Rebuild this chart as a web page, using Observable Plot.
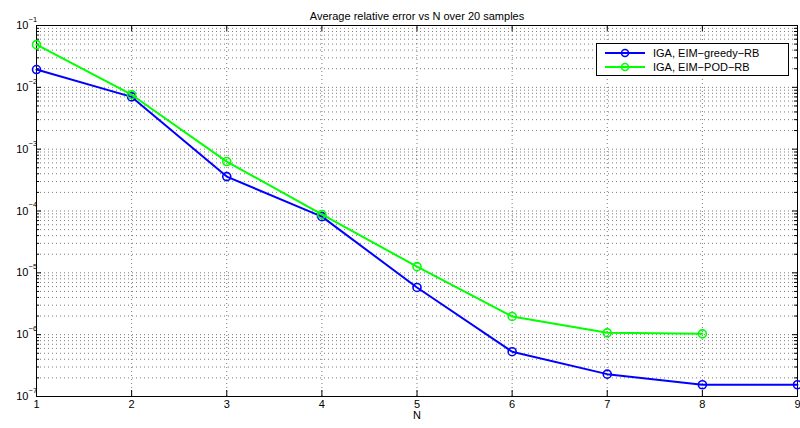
<!DOCTYPE html>
<html><head><meta charset="utf-8">
<script src="https://cdn.jsdelivr.net/npm/d3@7"></script>
<script src="https://cdn.jsdelivr.net/npm/@observablehq/plot@0.6"></script>
<style>
body{margin:0;background:#fff;font-family:"Liberation Sans",Arial,Helvetica,sans-serif}
#wrap{position:relative;width:800px;height:428px;overflow:hidden}
#legend{position:absolute;left:596px;top:43px;width:191px;height:31px;border:1px solid #000;background:#fff;font-size:11px;color:#000}
.row{position:absolute;left:0;height:14px;width:100%}
.row svg{position:absolute;left:6px;top:0}
.row span{position:absolute;left:56px;top:0;line-height:14px;white-space:nowrap}
</style>
</head><body><div id="wrap"></div>
<script>
// ---- data ----
const N = [1, 2, 3, 4, 5, 6, 7, 8, 9];
const greedyRB = [1.94e-2, 7.0e-3, 3.6e-4, 8.1e-5, 5.8e-6, 5.3e-7, 2.3e-7, 1.55e-7, 1.55e-7];
const podN = [1, 2, 3, 4, 5, 6, 7, 8];
const podRB = [4.9e-2, 7.6e-3, 6.3e-4, 8.8e-5, 1.26e-5, 1.97e-6, 1.07e-6, 1.03e-6];
const seriesNames = ["IGA, EIM\u2212greedy\u2212RB", "IGA, EIM\u2212POD\u2212RB"];
const seriesColors = ["#0000ff", "#00ff00"];
const xTicks = [1, 2, 3, 4, 5, 6, 7, 8, 9];
const decadeExps = [-7, -6, -5, -4, -3, -2, -1];
const title = "Average relative error vs N over 20 samples";
const xLabel = "N";

// ---- layout ----
const W = 800, H = 428, mL = 36, mR = 3, mT = 25, mB = 32;
const pxPerX = (W - mL - mR) / (xTicks[xTicks.length-1] - xTicks[0]);
const pxPerDec = (H - mT - mB) / (decadeExps.length - 1);
const xMin = xTicks[0], xMax = xTicks[xTicks.length-1];
const yMin = Math.pow(10, decadeExps[0]), yMax = Math.pow(10, decadeExps[decadeExps.length-1]);

const majors = decadeExps.map(e => Math.pow(10, e));
const minors = [];
decadeExps.slice(0, -1).forEach(e => { for (let m = 2; m <= 9; m++) minors.push(m * Math.pow(10, e)); });

const greedyData = N.map((n, i) => ({n, v: greedyRB[i]}));
const podData = podN.map((n, i) => ({n, v: podRB[i]}));

const dx = px => px / pxPerX;
const dyf = px => Math.pow(10, px / pxPerDec);
const gridStyle = {stroke: "#444", strokeWidth: 0.7, strokeDasharray: "1,3"};

const chart = Plot.plot({
  width: W, height: H,
  marginLeft: mL, marginRight: mR, marginTop: mT, marginBottom: mB,
  x: {domain: [xMin, xMax], axis: null},
  y: {type: "log", domain: [yMin, yMax], axis: null},
  style: {fontFamily: '"Liberation Sans", Arial, Helvetica, sans-serif', fontSize: "11px", background: "#fff", color: "#000"},
  marks: [
    // grid
    Plot.ruleY(majors.concat(minors), {y: d => d, x1: xMin, x2: xMax, ...gridStyle}),
    Plot.ruleX(xTicks.slice(1, -1), {x: d => d, y1: yMin, y2: yMax, ...gridStyle}),
    // inward ticks, y (left/right)
    Plot.ruleY(majors, {y: d => d, x1: xMin, x2: xMin + dx(5), stroke: "#000"}),
    Plot.ruleY(majors, {y: d => d, x1: xMax - dx(5), x2: xMax, stroke: "#000"}),
    Plot.ruleY(minors, {y: d => d, x1: xMin, x2: xMin + dx(3), stroke: "#000"}),
    Plot.ruleY(minors, {y: d => d, x1: xMax - dx(3), x2: xMax, stroke: "#000"}),
    // inward ticks, x (bottom/top)
    Plot.ruleX(xTicks, {x: d => d, y1: yMin, y2: yMin * dyf(6), stroke: "#000"}),
    Plot.ruleX(xTicks, {x: d => d, y1: yMax / dyf(6), y2: yMax, stroke: "#000"}),
    // frame
    Plot.frame({stroke: "#000", strokeWidth: 1}),
    // series
    Plot.line(greedyData, {x: "n", y: "v", stroke: seriesColors[0], strokeWidth: 2}),
    Plot.dot(greedyData, {x: "n", y: "v", stroke: seriesColors[0], fill: "none", r: 4, strokeWidth: 1.6}),
    Plot.line(podData, {x: "n", y: "v", stroke: seriesColors[1], strokeWidth: 2}),
    Plot.dot(podData, {x: "n", y: "v", stroke: seriesColors[1], fill: "none", r: 4, strokeWidth: 1.6}),
    // y tick labels 10^e
    Plot.text(decadeExps, {y: e => Math.pow(10, e), text: () => "10", frameAnchor: "left", dx: -8, textAnchor: "end", fontSize: 11}),
    Plot.text(decadeExps, {y: e => Math.pow(10, e), text: e => "\u2212" + Math.abs(e), frameAnchor: "left", dx: -8, dy: -6, textAnchor: "start", fontSize: 7.5}),
    // x tick labels
    Plot.text(xTicks, {x: d => d, text: d => String(d), frameAnchor: "bottom", dy: 11, fontSize: 11}),
    // x label
    Plot.text([xLabel], {frameAnchor: "bottom", dy: 22, text: d => d, fontSize: 11}),
    // title
    Plot.text([title], {frameAnchor: "top", dy: -13, text: d => d, fontSize: 11})
  ]
});
const wrap = document.getElementById("wrap");
wrap.appendChild(chart);

// legend
const legend = document.createElement("div");
legend.id = "legend";
seriesNames.forEach((name, i) => {
  const row = document.createElement("div");
  row.className = "row";
  row.style.top = (2 + i * 14) + "px";
  const c = seriesColors[i];
  row.innerHTML = `<svg width="44" height="14"><line x1="2" y1="7" x2="42" y2="7" stroke="${c}" stroke-width="2"/><circle cx="22" cy="7" r="3.5" fill="none" stroke="${c}" stroke-width="1.6"/></svg><span>${name}</span>`;
  legend.appendChild(row);
});
wrap.appendChild(legend);
</script>
</body></html>
